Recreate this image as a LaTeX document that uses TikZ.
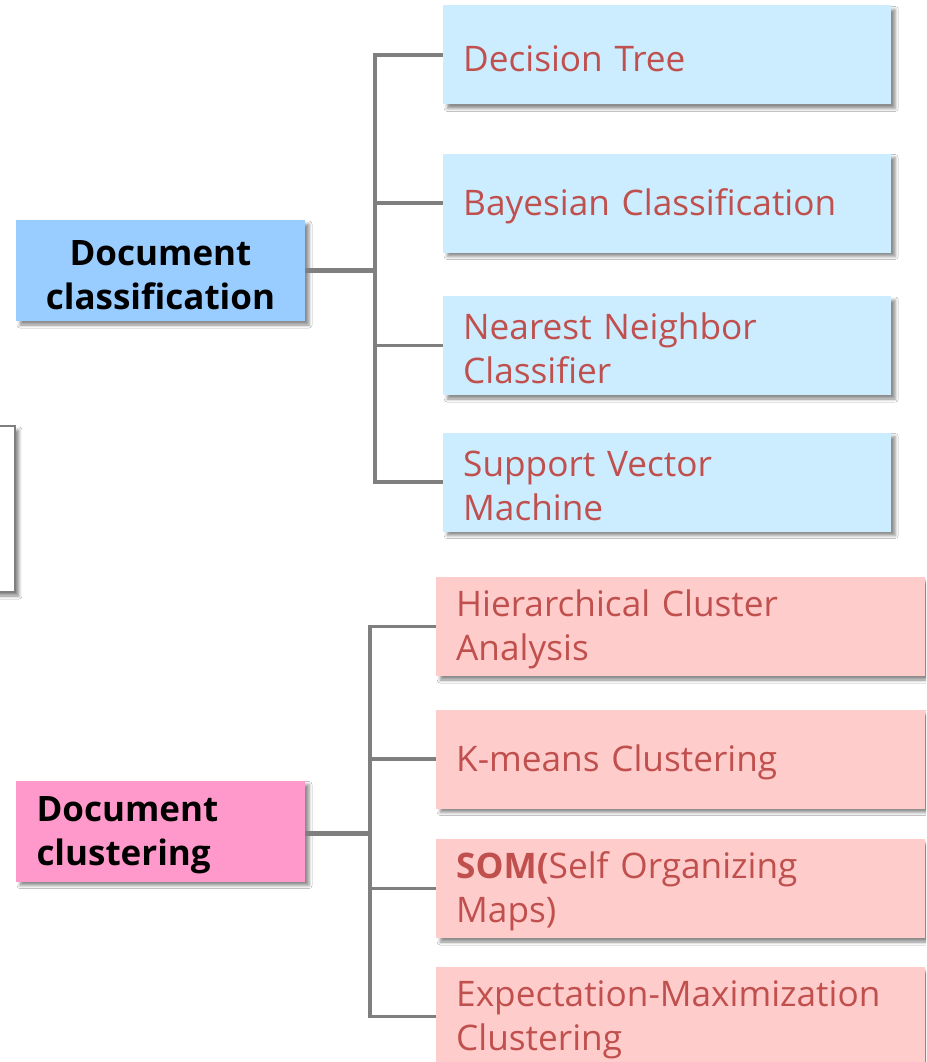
\documentclass[tikz,border=0pt]{standalone}
\usepackage{fontspec}
\setmainfont[WordSpace=1.5]{Open Sans}
\usetikzlibrary{shadows.blur}

\definecolor{clsfill}{HTML}{99CCFF}
\definecolor{clufill}{HTML}{FF99CC}
\definecolor{clsleaf}{HTML}{CCECFF}
\definecolor{cluleaf}{HTML}{FFCCCC}
\definecolor{leaftext}{HTML}{C0504D}
\definecolor{linkgray}{HTML}{7F7F7F}

\tikzset{
  x=1pt, y=-1pt,
  boxshadow/.style={blur shadow={shadow xshift=4pt, shadow yshift=-4pt,
      shadow blur radius=3pt, shadow opacity=45}},
  % a tall invisible strut on the first line pushes the text block down a little
  first line height/.style={execute at begin node={\rule{0pt}{#1}}},
  topic/.style={rectangle, minimum width=289pt, minimum height=101pt,
      inner sep=0pt, font=\fontsize{35}{44}\selectfont\bfseries, text=black,
      boxshadow, first line height=34pt},
  leaf/.style={rectangle, anchor=west, minimum height=99pt, inner xsep=20pt,
      inner ysep=0pt, align=left, font=\fontsize{35.2}{44}\selectfont,
      text=leaftext, boxshadow, first line height=32.5pt},
  clsleafbox/.style={leaf, fill=clsleaf, text width=408pt},
  cluleafbox/.style={leaf, fill=cluleaf, text width=449pt},
  link/.style={draw=linkgray, line width=3.2pt},
  stem/.style={draw=linkgray, line width=5pt},
  linkshade/.style={draw=black!25, line width=3pt, opacity=0.5},
}

\begin{document}
\begin{tikzpicture}
\useasboundingbox (0,0) rectangle (926,1062);
\clip (0,0) rectangle (926,1062);
\fill[white] (0,0) rectangle (926,1062);

% partly hidden frame at the left edge
\node[rectangle, draw=linkgray, line width=1.5pt, fill=white, boxshadow,
      minimum width=40pt, minimum height=166pt, inner sep=0pt] (side) at (-5,509) {};

% topic boxes
\node[topic, fill=clsfill, align=center, text width=289pt] (cls) at (160.5,270.5) {Document\\classification};
\node[topic, fill=clufill, align=left, text width=248pt] (clu) at (160.5,831) {Document\\clustering};

% classification methods
\node[clsleafbox] (dt)  at (443,55)  {Decision Tree};
\node[clsleafbox] (bay) at (443,203) {Bayesian Classification};
\node[clsleafbox] (nn)  at (443,345.5) {Nearest Neighbor\\Classifier};
\node[clsleafbox] (svm) at (443,482) {Support Vector\\Machine};

% clustering methods
\node[cluleafbox] (hca) at (436,626.5) {Hierarchical Cluster\\Analysis};
\node[cluleafbox] (km)  at (436,759)   {K-means Clustering};
\node[cluleafbox] (som) at (436,888.5) {\textbf{SOM(}Self Organizing\\Maps)};
\node[cluleafbox] (em)  at (436,1016.5) {Expectation-Maximization\\Clustering};

% bus positions
\coordinate (cbus) at (375,270.5);
\coordinate (kbus) at (370,833);

% soft shadows under the connectors
\begin{scope}[shift={(3,4)}]
  \path[linkshade] (dt.west -| cbus) -- (svm.west -| cbus);
  \path[linkshade] (hca.west -| kbus) -- (em.west -| kbus);
  \path[linkshade, line width=5pt] (cls.east |- cbus) -- (cbus);
  \path[linkshade, line width=5pt] (clu.east |- kbus) -- (kbus);
  \foreach \n in {dt,bay,nn,svm} \path[linkshade] (\n.west -| cbus) -- (\n.west);
  \foreach \n in {hca,km,som,em} \path[linkshade] (\n.west -| kbus) -- (\n.west);
\end{scope}

% classification tree
\path[stem] (cls.east |- cbus) -- (cbus);
\path[link] (dt.west) -- (dt.west -| cbus) -- (svm.west -| cbus) -- (svm.west);
\path[link] (bay.west -| cbus) -- (bay.west);
\path[link] (nn.west -| cbus) -- (nn.west);

% clustering tree
\path[stem] (clu.east |- kbus) -- (kbus);
\path[link] (hca.west) -- (hca.west -| kbus) -- (em.west -| kbus) -- (em.west);
\path[link] (km.west -| kbus) -- (km.west);
\path[link] (som.west -| kbus) -- (som.west);
\end{tikzpicture}
\end{document}
